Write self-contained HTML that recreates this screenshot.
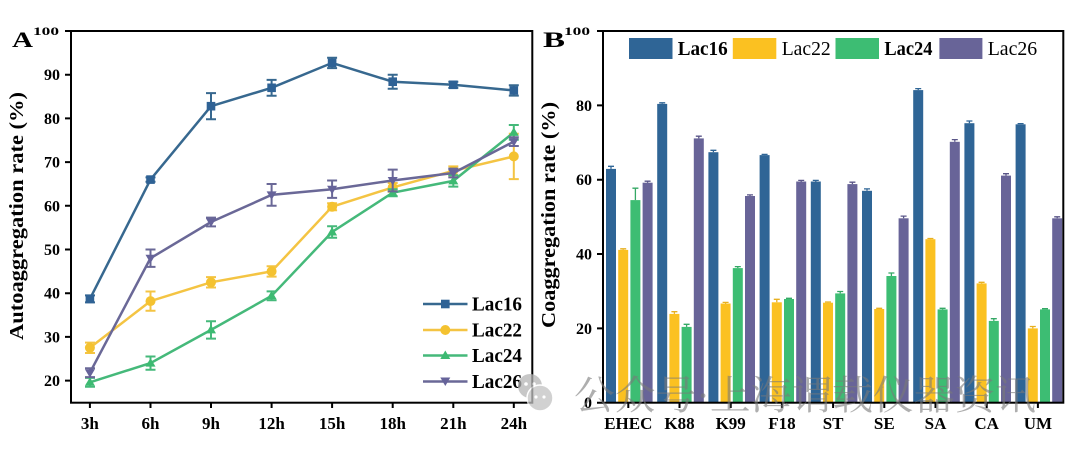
<!DOCTYPE html>
<html><head><meta charset="utf-8"><style>
html,body{margin:0;padding:0;background:#fff;}
svg{display:block;}
text{font-family:"Liberation Serif","Noto Serif CJK SC",serif;}
</style></head><body>
<svg width="1080" height="452" viewBox="0 0 1080 452" xmlns="http://www.w3.org/2000/svg">
<rect width="1080" height="452" fill="#fff"/>

<!-- ============ PANEL A ============ -->
<g stroke="#000" stroke-width="2" fill="none">
<rect x="71" y="31" width="461.3" height="371.7"/>
<!-- y ticks -->
<path d="M65 31H71M65 74.7H71M65 118.4H71M65 162.1H71M65 205.8H71M65 249.5H71M65 293.2H71M65 336.9H71M65 380.6H71"/>
<!-- x ticks -->
<path d="M89.9 402.7V408M150.5 402.7V408M211 402.7V408M271.6 402.7V408M332.1 402.7V408M392.7 402.7V408M453.3 402.7V408M513.8 402.7V408"/>
</g>
<g font-weight="bold" font-size="16" text-anchor="end">
<text x="59" y="35" font-size="12" textLength="26" lengthAdjust="spacingAndGlyphs">100</text>
<text x="60" y="80.2">90</text>
<text x="60" y="123.9">80</text>
<text x="60" y="167.6">70</text>
<text x="60" y="211.3">60</text>
<text x="60" y="255">50</text>
<text x="60" y="298.7">40</text>
<text x="60" y="342.4">30</text>
<text x="60" y="386.1">20</text>
</g>
<g font-weight="bold" font-size="17" text-anchor="middle">
<text x="89.9" y="429">3h</text>
<text x="150.5" y="429">6h</text>
<text x="211" y="429">9h</text>
<text x="271.6" y="429">12h</text>
<text x="332.1" y="429">15h</text>
<text x="392.7" y="429">18h</text>
<text x="453.3" y="429">21h</text>
<text x="513.8" y="429">24h</text>
</g>
<text x="12" y="47" font-size="22" font-weight="bold" textLength="21" lengthAdjust="spacingAndGlyphs">A</text>
<text transform="translate(23,216) rotate(-90)" text-anchor="middle" font-size="20" font-weight="bold" textLength="248" lengthAdjust="spacingAndGlyphs">Autoaggregation rate (%)</text>

<!-- Lac16 -->
<g stroke="#37688f" stroke-width="2.5" fill="none">
<polyline points="89.9,298.9 150.5,179.6 211,106.2 271.6,87.8 332.1,62.9 392.7,81.7 453.3,84.8 513.8,90.4"/>
<path stroke-width="2" d="M89.9 295.4V302.4M85 295.4H95M85 302.4H95
M150.5 177.4V181.8M145.5 177.4H155.5M145.5 181.8H155.5
M211 93.1V119.3M206 93.1H216M206 119.3H216
M271.6 79.9V95.7M266.6 79.9H276.6M266.6 95.7H276.6
M332.1 57.7V68.1M327.1 57.7H337.1M327.1 68.1H337.1
M392.7 74.7V88.7M387.7 74.7H397.7M387.7 88.7H397.7
M453.3 81.7V87.9M448.3 81.7H458.3M448.3 87.9H458.3
M513.8 85.2V95.6M508.8 85.2H518.8M508.8 95.6H518.8"/>
</g>
<g fill="#2f6295">
<rect x="85.6" y="294.6" width="8.6" height="8.6"/>
<rect x="146.2" y="175.3" width="8.6" height="8.6"/>
<rect x="206.7" y="101.9" width="8.6" height="8.6"/>
<rect x="267.3" y="83.5" width="8.6" height="8.6"/>
<rect x="327.8" y="58.6" width="8.6" height="8.6"/>
<rect x="388.4" y="77.4" width="8.6" height="8.6"/>
<rect x="449" y="80.5" width="8.6" height="8.6"/>
<rect x="509.5" y="86.1" width="8.6" height="8.6"/>
</g>

<!-- Lac22 -->
<g stroke="#f4c443" stroke-width="2.5" fill="none">
<polyline points="89.9,347.8 150.5,301.1 211,282.3 271.6,271.4 332.1,206.7 392.7,187.4 453.3,170.8 513.8,156.4"/>
<path stroke-width="2" d="M89.9 342.6V353M85 342.6H95M85 353H95
M150.5 291.5V310.7M145.5 291.5H155.5M145.5 310.7H155.5
M211 277.1V287.5M206 277.1H216M206 287.5H216
M271.6 266.2V276.6M266.6 266.2H276.6M266.6 276.6H276.6
M332.1 203.2V210.2M327.1 203.2H337.1M327.1 210.2H337.1
M392.7 183V191.8M387.7 183H397.7M387.7 191.8H397.7
M453.3 166.4V175.2M448.3 166.4H458.3M448.3 175.2H458.3
M513.8 133.7V179.1M508.8 133.7H518.8M508.8 179.1H518.8"/>
</g>
<g fill="#f4c230">
<circle cx="89.9" cy="347.8" r="5"/>
<circle cx="150.5" cy="301.1" r="5"/>
<circle cx="211" cy="282.3" r="5"/>
<circle cx="271.6" cy="271.4" r="5"/>
<circle cx="332.1" cy="206.7" r="5"/>
<circle cx="392.7" cy="187.4" r="5"/>
<circle cx="453.3" cy="170.8" r="5"/>
<circle cx="513.8" cy="156.4" r="5"/>
</g>

<!-- Lac24 -->
<g stroke="#45b97a" stroke-width="2.5" fill="none">
<polyline points="89.9,382.3 150.5,363.1 211,329.9 271.6,295.8 332.1,232 392.7,192.7 453.3,180.9 513.8,132.4"/>
<path stroke-width="2" d="M89.9 377.9V386.7M85 377.9H95M85 386.7H95
M150.5 356.5V369.7M145.5 356.5H155.5M145.5 369.7H155.5
M211 321.2V338.6M206 321.2H216M206 338.6H216
M271.6 291.4V300.2M266.6 291.4H276.6M266.6 300.2H276.6
M332.1 226.3V237.7M327.1 226.3H337.1M327.1 237.7H337.1
M392.7 189.2V196.2M387.7 189.2H397.7M387.7 196.2H397.7
M453.3 175.2V186.6M448.3 175.2H458.3M448.3 186.6H458.3
M513.8 125V139.8M508.8 125H518.8M508.8 139.8H518.8"/>
</g>
<g fill="#3dba72">
<polygon points="89.9,377.3 94.9,385.8 84.9,385.8"/>
<polygon points="150.5,358.1 155.5,366.6 145.5,366.6"/>
<polygon points="211,324.9 216,333.4 206,333.4"/>
<polygon points="271.6,290.8 276.6,299.3 266.6,299.3"/>
<polygon points="332.1,227 337.1,235.5 327.1,235.5"/>
<polygon points="392.7,187.7 397.7,196.2 387.7,196.2"/>
<polygon points="453.3,175.9 458.3,184.4 448.3,184.4"/>
<polygon points="513.8,127.4 518.8,135.9 508.8,135.9"/>
</g>

<!-- Lac26 -->
<g stroke="#6a6897" stroke-width="2.5" fill="none">
<polyline points="89.9,372.7 150.5,258.2 211,222 271.6,194.9 332.1,189.2 392.7,180.5 453.3,173 513.8,141.6"/>
<path stroke-width="2" d="M89.9 368.3V377.1M85 368.3H95M85 377.1H95
M150.5 249.5V266.9M145.5 249.5H155.5M145.5 266.9H155.5
M211 217.6V226.4M206 217.6H216M206 226.4H216
M271.6 184V205.8M266.6 184H276.6M266.6 205.8H276.6
M332.1 180.5V197.9M327.1 180.5H337.1M327.1 197.9H337.1
M392.7 169.6V191.4M387.7 169.6H397.7M387.7 191.4H397.7
M453.3 168.6V177.4M448.3 168.6H458.3M448.3 177.4H458.3
M513.8 137.2V146M508.8 137.2H518.8M508.8 146H518.8"/>
</g>
<g fill="#66639a">
<polygon points="84.9,369.2 94.9,369.2 89.9,377.7"/>
<polygon points="145.5,254.7 155.5,254.7 150.5,263.2"/>
<polygon points="206,218.5 216,218.5 211,227"/>
<polygon points="266.6,191.4 276.6,191.4 271.6,199.9"/>
<polygon points="327.1,185.7 337.1,185.7 332.1,194.2"/>
<polygon points="387.7,177 397.7,177 392.7,185.5"/>
<polygon points="448.3,169.5 458.3,169.5 453.3,178"/>
<polygon points="508.8,138.1 518.8,138.1 513.8,146.6"/>
</g>

<!-- Legend A -->
<g stroke-width="2.5">
<line x1="423" y1="304" x2="467.5" y2="304" stroke="#37688f"/>
<line x1="423" y1="330" x2="467.5" y2="330" stroke="#f4c443"/>
<line x1="423" y1="355.5" x2="467.5" y2="355.5" stroke="#45b97a"/>
<line x1="423" y1="381.5" x2="467.5" y2="381.5" stroke="#6a6897"/>
</g>
<rect x="441" y="299.7" width="8.6" height="8.6" fill="#2f6295"/>
<circle cx="445.3" cy="330" r="5" fill="#f4c230"/>
<polygon points="445.3,350.5 450.3,359 440.3,359" fill="#3dba72"/>
<polygon points="440.3,377.5 450.3,377.5 445.3,386" fill="#66639a"/>
<g font-weight="bold" font-size="20">
<text x="472" y="310.6" textLength="50" lengthAdjust="spacingAndGlyphs">Lac16</text>
<text x="472" y="336.6" textLength="50" lengthAdjust="spacingAndGlyphs">Lac22</text>
<text x="472" y="362.1" textLength="50" lengthAdjust="spacingAndGlyphs">Lac24</text>
<text x="472" y="388.1" textLength="50" lengthAdjust="spacingAndGlyphs">Lac26</text>
</g>

<!-- ============ PANEL B ============ -->
<!-- Bars -->
<g fill="#2f6596">
<rect x="606" y="168.9" width="10" height="233.8"/>
<rect x="657.2" y="103.9" width="10" height="298.8"/>
<rect x="708.4" y="152.2" width="10" height="250.5"/>
<rect x="759.6" y="155.1" width="10" height="247.6"/>
<rect x="810.8" y="181.5" width="10" height="221.2"/>
<rect x="862" y="190.8" width="10" height="211.9"/>
<rect x="913.2" y="90.1" width="10" height="312.6"/>
<rect x="964.4" y="123.2" width="10" height="279.5"/>
<rect x="1015.6" y="124.3" width="10" height="278.4"/>
</g>
<g fill="#fbc121">
<rect x="618.2" y="249.9" width="10" height="152.8"/>
<rect x="669.4" y="313.9" width="10" height="88.8"/>
<rect x="720.6" y="303.5" width="10" height="99.2"/>
<rect x="771.8" y="302.3" width="10" height="100.4"/>
<rect x="823" y="302.7" width="10" height="100"/>
<rect x="874.2" y="309" width="10" height="93.7"/>
<rect x="925.4" y="239.2" width="10" height="163.5"/>
<rect x="976.6" y="283.4" width="10" height="119.3"/>
<rect x="1027.8" y="328.4" width="10" height="74.3"/>
</g>
<g fill="#3dbd73">
<rect x="630.4" y="200.1" width="10" height="202.6"/>
<rect x="681.6" y="326.9" width="10" height="75.8"/>
<rect x="732.8" y="268.1" width="10" height="134.6"/>
<rect x="784" y="299" width="10" height="103.7"/>
<rect x="835.2" y="293.4" width="10" height="109.3"/>
<rect x="886.4" y="276" width="10" height="126.7"/>
<rect x="937.6" y="309.4" width="10" height="93.3"/>
<rect x="988.8" y="320.9" width="10" height="81.8"/>
<rect x="1040" y="309.4" width="10" height="93.3"/>
</g>
<g fill="#686498">
<rect x="642.6" y="182.7" width="10" height="220"/>
<rect x="693.8" y="138.4" width="10" height="264.3"/>
<rect x="745" y="196" width="10" height="206.7"/>
<rect x="796.2" y="181.5" width="10" height="221.2"/>
<rect x="847.4" y="184.1" width="10" height="218.6"/>
<rect x="898.6" y="218.3" width="10" height="184.4"/>
<rect x="949.8" y="141.8" width="10" height="260.9"/>
<rect x="1001" y="175.6" width="10" height="227.1"/>
<rect x="1052.2" y="218.3" width="10" height="184.4"/>
</g>
<!-- error bars B -->
<g stroke-width="1.3" fill="none">
<path stroke="#2f6596" d="M611 168.9V166.3M608 166.3H614
M662.2 103.9V102.8M659.2 102.8H665.2
M713.4 152.2V150.3M710.4 150.3H716.4
M764.6 155.1V154.4M761.6 154.4H767.6
M815.8 181.5V180.4M812.8 180.4H818.8
M867 190.8V188.9M864 188.9H870
M918.2 90.1V88.6M915.2 88.6H921.2
M969.4 123.2V121M966.4 121H972.4
M1020.6 124.3V123.6M1017.6 123.6H1023.6"/>
<path stroke="#e8b020" d="M623.2 249.9V248.8M620.2 248.8H626.2
M674.4 313.9V311.7M671.4 311.7H677.4
M725.6 303.5V302.4M722.6 302.4H728.6
M776.8 302.3V299.3M773.8 299.3H779.8
M828 302.7V302M825 302H831
M879.2 309V308.3M876.2 308.3H882.2
M930.4 239.2V238.5M927.4 238.5H933.4
M981.6 283.4V282.3M978.6 282.3H984.6
M1032.8 328.4V326.5M1029.8 326.5H1035.8"/>
<path stroke="#35a865" d="M635.4 200.1V188.2M632.4 188.2H638.4
M686.6 326.9V324.3M683.6 324.3H689.6
M737.8 268.1V266.6M734.8 266.6H740.8
M789 299V298.3M786 298.3H792
M840.2 293.4V291.5M837.2 291.5H843.2
M891.4 276V273M888.4 273H894.4
M942.6 309.4V308.3M939.6 308.3H945.6
M993.8 320.9V318.7M990.8 318.7H996.8
M1045 309.4V308.7M1042 308.7H1048"/>
<path stroke="#5a5688" d="M647.6 182.7V181.2M644.6 181.2H650.6
M698.8 138.4V136.2M695.8 136.2H701.8
M750 196V194.9M747 194.9H753
M801.2 181.5V180.4M798.2 180.4H804.2
M852.4 184.1V182.2M849.4 182.2H855.4
M903.6 218.3V216.1M900.6 216.1H906.6
M954.8 141.8V139.6M951.8 139.6H957.8
M1006 175.6V173.7M1003 173.7H1009
M1057.2 218.3V216.8M1054.2 216.8H1060.2"/>
</g>

<!-- Axes B -->
<g stroke="#000" stroke-width="2" fill="none">
<rect x="603" y="31" width="460.3" height="371.7"/>
<path d="M597 31H603M597 105.4H603M597 179.7H603M597 254H603M597 328.4H603M597 402.7H603"/>
<path d="M628.3 402.7V408M679.5 402.7V408M730.7 402.7V408M781.9 402.7V408M833.1 402.7V408M884.3 402.7V408M935.5 402.7V408M986.7 402.7V408M1037.9 402.7V408"/>
</g>
<g font-weight="bold" font-size="16" text-anchor="end">
<text x="590" y="35" font-size="12" textLength="26" lengthAdjust="spacingAndGlyphs">100</text>
<text x="592" y="110.9">80</text>
<text x="592" y="185.2">60</text>
<text x="592" y="259.5">40</text>
<text x="592" y="333.9">20</text>
<text x="592" y="408.2">0</text>
</g>
<g font-weight="bold" font-size="17" text-anchor="middle">
<text x="628.3" y="429">EHEC</text>
<text x="679.5" y="429">K88</text>
<text x="730.7" y="429">K99</text>
<text x="781.9" y="429">F18</text>
<text x="833.1" y="429">ST</text>
<text x="884.3" y="429">SE</text>
<text x="935.5" y="429">SA</text>
<text x="986.7" y="429">CA</text>
<text x="1037.9" y="429">UM</text>
</g>
<text x="543" y="47" font-size="22" font-weight="bold" textLength="22" lengthAdjust="spacingAndGlyphs">B</text>
<text transform="translate(555,215) rotate(-90)" text-anchor="middle" font-size="20" font-weight="bold" textLength="226" lengthAdjust="spacingAndGlyphs">Coaggregation rate (%)</text>

<!-- Legend B -->
<rect x="629" y="38" width="43.5" height="21" fill="#2f6596"/>
<rect x="732.8" y="38" width="43.5" height="21" fill="#fbc121"/>
<rect x="835.5" y="38" width="43.5" height="21" fill="#3dbd73"/>
<rect x="939.4" y="38" width="43" height="21" fill="#686498"/>
<g font-size="20">
<text x="677.7" y="55" font-weight="bold" textLength="50" lengthAdjust="spacingAndGlyphs">Lac16</text>
<text x="781.7" y="55" textLength="49" lengthAdjust="spacingAndGlyphs">Lac22</text>
<text x="884.4" y="55" font-weight="bold" textLength="48" lengthAdjust="spacingAndGlyphs">Lac24</text>
<text x="987.7" y="55" textLength="49.5" lengthAdjust="spacingAndGlyphs">Lac26</text>
</g>

<!-- Watermark -->
<g opacity="0.75">
<circle cx="530" cy="386" r="12" fill="#b5b5b5"/>
<circle cx="540" cy="398" r="13" fill="#c2c2c2" stroke="#fff" stroke-width="1.5"/>
<circle cx="526" cy="384" r="1.8" fill="#fff"/>
<circle cx="534" cy="384" r="1.8" fill="#fff"/>
<circle cx="536" cy="397" r="1.6" fill="#fff"/>
<circle cx="544" cy="397" r="1.6" fill="#fff"/>
</g>
<text x="574" y="409" font-family="'Noto Sans CJK SC','WenQuanYi Zen Hei',sans-serif" font-size="40" fill="#7a7a7a" opacity="0.6" textLength="462" lengthAdjust="spacingAndGlyphs">公众号·上海谓载仪器资讯</text>
</svg>
</body></html>
